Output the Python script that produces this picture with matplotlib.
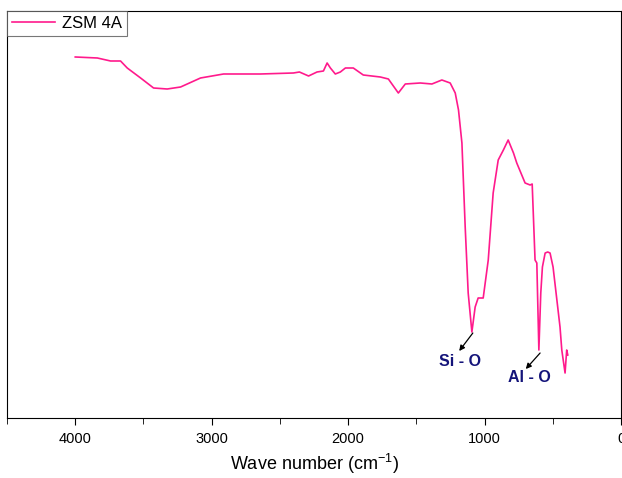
import matplotlib.pyplot as plt

# FTIR spectrum of ZSM 4A (transmittance in arbitrary units)
wavenumber = [4000, 3838, 3741, 3668, 3619, 3521, 3426, 3326, 3228, 3082,
              2913, 2643, 2401, 2357, 2290, 2228, 2181, 2154, 2130, 2094,
              2057, 2020, 1962, 1889, 1764, 1705, 1632, 1581, 1471, 1386,
              1313, 1252, 1215, 1191, 1166, 1142, 1120, 1093, 1069, 1047,
              1010, 973, 937, 900, 862, 827, 788, 764, 703, 666,
              651, 630, 617, 602, 588, 576, 556, 537, 520, 498,
              447, 434, 410, 398, 390]
transmittance = [361, 360, 357, 357, 350, 340, 330, 329, 331, 340,
                 344, 344, 345, 346, 342, 346, 347, 355, 350, 344,
                 346, 350, 350, 343, 341, 339, 325, 334, 335, 334,
                 338, 335, 325, 308, 275, 191, 125, 86, 111, 120,
                 120, 158, 225, 258, 268, 278, 265, 255, 235, 233,
                 234, 158, 155, 68, 125, 151, 165, 166, 165, 151,
                 91, 68, 45, 68, 63]

series_label = "ZSM 4A"
bands = ["Si - O", "Al - O"]
band_tip = [(1086, 85), (593, 65)]
band_arrow_end = [(1186, 67), (698, 49)]
band_text_pos = [(1179, 57), (674, 41)]

plt.rcParams['font.family'] = ['Liberation Sans', 'DejaVu Sans']
plt.rcParams['mathtext.default'] = 'regular'

fig = plt.figure(figsize=(6.22, 4.78), dpi=100)
ax = fig.add_axes([0.0113, 0.1255, 0.9871, 0.8515])

ax.plot(wavenumber, transmittance, color='#ff1a8c', lw=1.2, label=series_label)

for name, tip, end, pos in zip(bands, band_tip, band_arrow_end, band_text_pos):
    ax.annotate('', xy=end, xytext=tip,
                arrowprops=dict(arrowstyle='-|>', color='black', lw=0.9,
                                mutation_scale=8, shrinkA=0, shrinkB=0))
    ax.text(pos[0], pos[1], name, color='#14147a', fontsize=11.5,
            fontweight='bold', ha='center', va='center')

ax.set_xlim(4500, 0)
ax.set_ylim(0, 407)
ax.set_xticks([4000, 3000, 2000, 1000, 0])
ax.set_xticks([4500, 3500, 2500, 1500, 500], minor=True)
ax.tick_params(axis='x', which='major', direction='out', length=5, labelsize=10.5, pad=5)
ax.tick_params(axis='x', which='minor', direction='out', length=4)
ax.set_yticks([])
ax.set_xlabel("Wave number (cm$^{-1}$)", fontsize=13, labelpad=4)

leg = ax.legend(loc='upper left', borderaxespad=0, fancybox=False, fontsize=12,
                handlelength=2.6, handletextpad=0.4, borderpad=0.3)
leg.get_frame().set_edgecolor('#555555')
leg.get_frame().set_linewidth(0.8)

fig.savefig("out.png", dpi=100)
